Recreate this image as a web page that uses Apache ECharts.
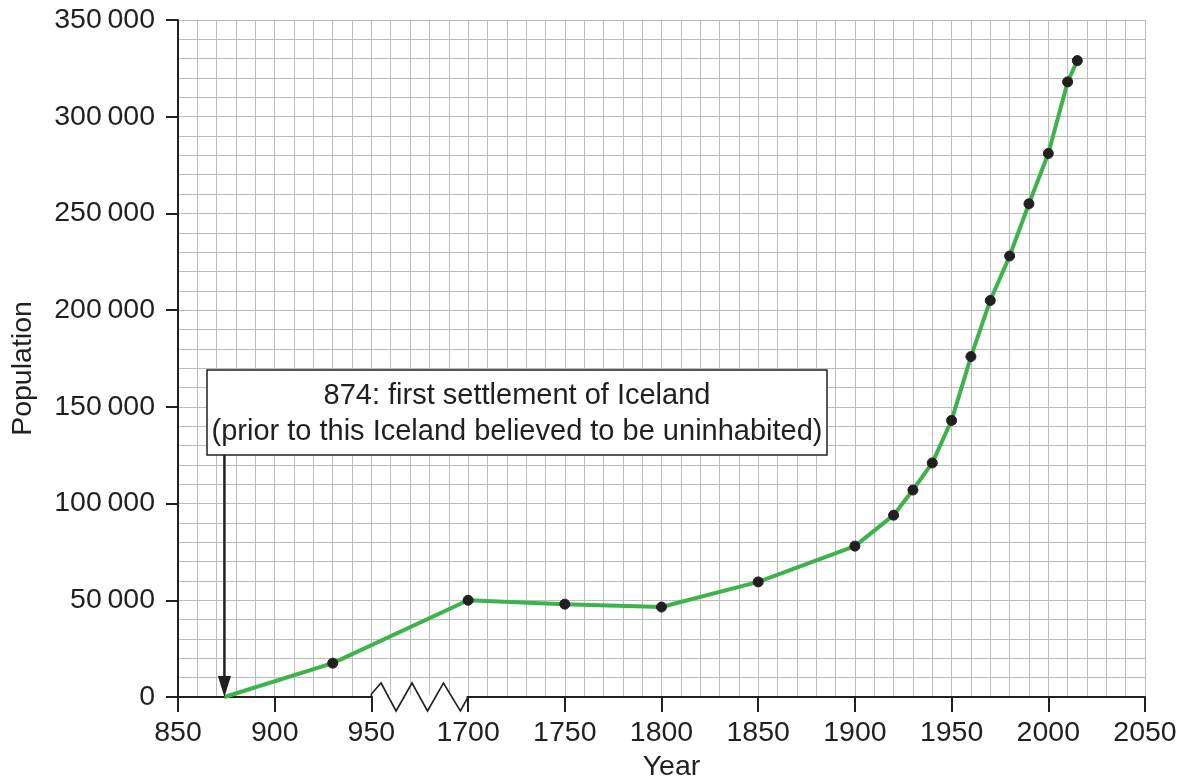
<!DOCTYPE html>
<html>
<head>
<meta charset="utf-8">
<script src="https://cdn.jsdelivr.net/npm/echarts@6/dist/echarts.min.js"></script>
<style>
html,body{margin:0;padding:0;background:#ffffff;}
#chart{width:1186px;height:783px;}
</style>
</head>
<body>
<div id="chart"></div>
<script>
// ---- data ----
const years = [874, 930, 1700, 1750, 1800, 1850, 1900, 1920, 1930, 1940, 1950, 1960, 1970, 1980, 1990, 2000, 2010, 2015];
const population = [0, 17500, 50000, 48000, 46500, 59500, 78000, 94000, 107000, 121000, 143000, 176000, 205000, 228000, 255000, 281000, 318000, 329000];
const xTickLabels = ['850', '900', '950', '1700', '1750', '1800', '1850', '1900', '1950', '2000', '2050'];
const yTickValues = [0, 50000, 100000, 150000, 200000, 250000, 300000, 350000];
const settlementYear = 874;
const annotationLines = ['874: first settlement of Iceland', '(prior to this Iceland believed to be uninhabited)'];

// axis break: 950 .. 1700 collapsed into one 50-year step
const BREAK_FROM = 950, BREAK_TO = 1700, STEP = 50;
const SHIFT = BREAK_TO - (BREAK_FROM + STEP);
const toPos = y => (y <= BREAK_FROM ? y : y - SHIFT);

const INK = '#231f20';
const GRIDC = '#bcbcbc';
const FONT = "'Liberation Sans', Arial, sans-serif";
const FS = 28.5;

const seriesData = years.map((y, i) => {
  const item = { value: [toPos(y), population[i]] };
  if (i === 0) item.symbol = 'none';
  return item;
});

const fmtNum = v => {
  const s = String(Math.round(v));
  return s.replace(/\B(?=(\d{3})+(?!\d))/g, '\u2009');
};

const chart = echarts.init(document.getElementById('chart'), null, { renderer: 'canvas' });

const option = {
  animation: false,
  backgroundColor: '#ffffff',
  grid: { left: 178, right: 41, top: 20, bottom: 86, containLabel: false, outerBoundsMode: 'none' },
  xAxis: {
    type: 'value',
    min: 850,
    max: toPos(2050),
    interval: STEP,
    name: 'Year',
    nameLocation: 'middle',
    nameGap: 56,
    nameTextStyle: { fontFamily: FONT, fontSize: FS, color: INK, padding: [0, 0, 0, 20] },
    axisLine: { show: true, onZero: false, lineStyle: { color: INK, width: 2 } },
    axisTick: { show: true, length: 15, lineStyle: { color: INK, width: 2 } },
    axisLabel: {
      margin: 22,
      fontFamily: FONT, fontSize: FS, color: INK,
      formatter: v => xTickLabels[Math.round((v - 850) / STEP)]
    },
    minorTick: { show: false, splitNumber: 5 },
    splitLine: { show: true, lineStyle: { color: GRIDC, width: 1 } },
    minorSplitLine: { show: true, lineStyle: { color: GRIDC, width: 1 } }
  },
  yAxis: {
    type: 'value',
    min: 0,
    max: yTickValues[yTickValues.length - 1],
    interval: yTickValues[1] - yTickValues[0],
    name: 'Population',
    nameLocation: 'middle',
    nameRotate: 90,
    nameGap: 140,
    nameTextStyle: { fontFamily: FONT, fontSize: FS, color: INK, padding: [0, 20, 0, 0] },
    axisLine: { show: true, lineStyle: { color: INK, width: 2 } },
    axisTick: { show: true, length: 12, lineStyle: { color: INK, width: 2 } },
    axisLabel: {
      margin: 23,
      fontFamily: FONT, fontSize: FS, color: INK,
      formatter: v => fmtNum(v)
    },
    minorTick: { show: false, splitNumber: 5 },
    splitLine: { show: true, lineStyle: { color: GRIDC, width: 1 } },
    minorSplitLine: { show: true, lineStyle: { color: GRIDC, width: 1 } }
  },
  series: [{
    type: 'line',
    data: seriesData,
    smooth: false,
    symbol: 'circle',
    symbolSize: 10,
    showSymbol: true,
    lineStyle: { color: '#3cb44b', width: 4, join: 'round' },
    itemStyle: { color: INK, borderColor: INK, borderWidth: 1 },
    z: 3
  }]
};

chart.setOption(option);

// ---- annotations (computed from axis scale) ----
const px = (x, y) => chart.convertToPixel({ gridIndex: 0 }, [x, y]);
const base = px(850, 0);
const axisY = base[1];
const xA = px(BREAK_FROM, 0)[0];
const xB = px(BREAK_FROM + STEP, 0)[0];
const w = xB - xA;
const amp = 14;
const zig = [
  [xA, axisY], [xA, axisY - 3], [xA + 0.10 * w, axisY - amp], [xA + 0.255 * w, axisY + amp],
  [xA + 0.42 * w, axisY - amp], [xA + 0.58 * w, axisY + amp], [xA + 0.745 * w, axisY - amp],
  [xA + 0.92 * w, axisY + amp], [xB, axisY]
];
const xs = px(toPos(settlementYear), 0)[0];
const boxL = 207, boxR = 827, boxT = 370, boxB = 455;

chart.setOption({
  graphic: [
    { type: 'rect', z: 50, shape: { x: xA + 1.5, y: axisY - 2, width: w - 3, height: 4 }, style: { fill: '#ffffff' } },
    { type: 'polyline', z: 51, shape: { points: zig }, style: { stroke: INK, lineWidth: 1.6, fill: null } },
    { type: 'rect', z: 100, shape: { x: boxL, y: boxT, width: boxR - boxL, height: boxB - boxT },
      style: { fill: '#ffffff', stroke: INK, lineWidth: 1.5 } },
    { type: 'text', z: 101, x: (boxL + boxR) / 2, y: (boxT + boxB) / 2 + 1,
      style: { text: annotationLines.join('\n'), fill: INK,
        font: "29px 'Liberation Sans', Arial, sans-serif",
        lineHeight: 36, align: 'center', verticalAlign: 'middle' } },
    { type: 'line', z: 100, shape: { x1: xs, y1: boxB, x2: xs, y2: axisY - 18 }, style: { stroke: INK, lineWidth: 2.5 } },
    { type: 'polygon', z: 100, shape: { points: [[xs - 6.5, axisY - 21], [xs + 6.5, axisY - 21], [xs, axisY]] }, style: { fill: INK } }
  ]
});
</script>
</body>
</html>
